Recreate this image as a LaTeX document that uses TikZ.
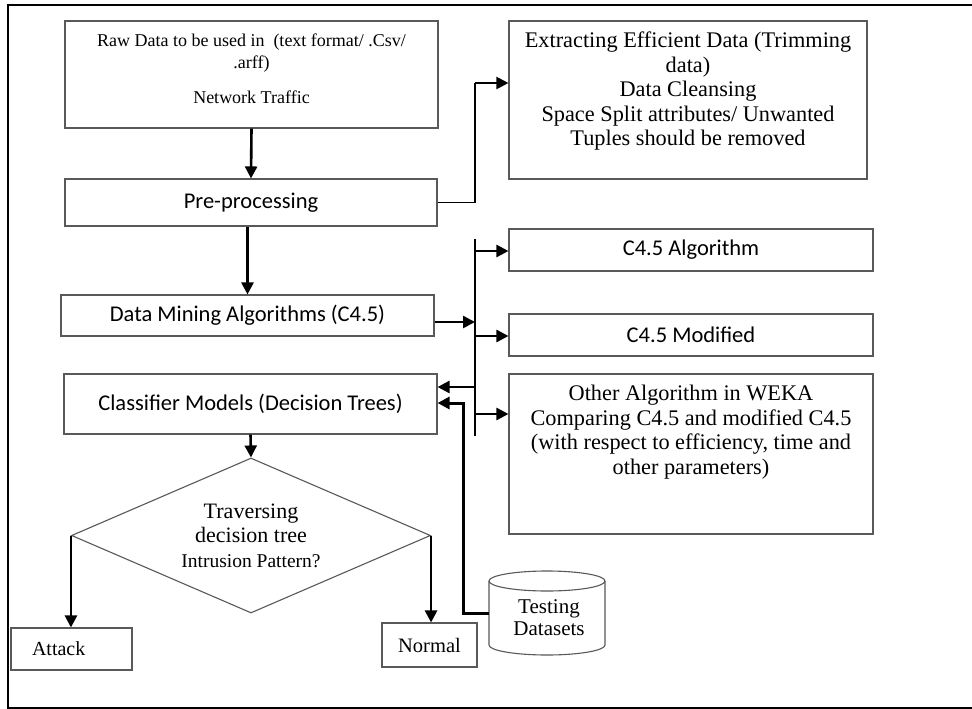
\documentclass[tikz,border=0pt]{standalone}
\usepackage{fontspec}
\setmainfont{Liberation Serif}
\newfontfamily\carl{Carlito}
\usetikzlibrary{arrows.meta,shapes.geometric}
\begin{document}
\begin{tikzpicture}[x=1pt,y=-1pt,
  box/.style={draw=black!65, line width=1.1pt, rectangle, inner sep=0pt},
  serA/.style={font=\fontsize{22.3}{24.5}\selectfont, align=center, inner sep=0pt},
  serB/.style={font=\fontsize{18}{22}\selectfont, align=center, inner sep=0pt},
  serC/.style={font=\fontsize{21}{21.5}\selectfont, align=center, inner sep=0pt},
  cal/.style={font=\carl\fontsize{22.5}{26}\selectfont},
  arr/.style={line width=2.6pt, -{Triangle[length=12pt,width=12pt]}},
  thinline/.style={line width=1.3pt},
  frame/.style={line width=2pt},
  cyl/.style={draw=black!65, line width=1.1pt}
]
\useasboundingbox (0,0) rectangle (972,709);
\fill[white] (0,0) rectangle (972,709);
\draw[frame] (972,5) -- (8,5) -- (8,708) -- (972,708);

% left column
\node[box, minimum width=373, minimum height=107] (raw) at (251.5,74.5) {};
\node[serB] (rawtxt) at (251.5,69) {Raw Data to be used in~ (text format/ .Csv/\\.arff)\\[13pt]Network Traffic};
\node[box, cal, minimum width=372, minimum height=47] (pre) at (251,202.5) {Pre-processing};
\node[box, cal, minimum width=373, minimum height=41] (dma) at (247.5,315.5) {Data Mining Algorithms (C4.5)};
\node[box, cal, minimum width=373, minimum height=60] (cls) at (250.5,404) {\raisebox{-3pt}{Classifier Models (Decision Trees)}};

% right column
\node[box, minimum width=358, minimum height=158] (ext) at (688,100) {};
\node[serA] (exttxt) at (688,91.5) {Extracting Efficient Data (Trimming\\data)\\Data Cleansing\\Space Split attributes/ Unwanted\\Tuples should be removed};
\node[box, cal, minimum width=364, minimum height=42] (c45a) at (691,250) {C4.5 Algorithm};
\node[box, cal, minimum width=364, minimum height=42] (c45m) at (691,335) {C4.5 Modified};
\node[box, minimum width=364, minimum height=160] (oth) at (691,454) {};
\node[serA] (othtxt) at (691,432) {Other Algorithm in WEKA\\Comparing C4.5 and modified C4.5\\(with respect to efficiency, time and\\other parameters)};

% decision
\node[draw=black!65, line width=1.1pt, diamond, aspect=2.3, minimum width=359, minimum height=155, inner sep=0pt,
      font=\fontsize{22}{24.5}\selectfont, align=center] (dia) at (251,535.5)
      {Traversing\\decision tree\\{\fontsize{19.5}{23}\selectfont Intrusion Pattern?}};
\node[box, minimum width=121, minimum height=42, text width=79pt, inner xsep=21pt, align=left,
      font=\fontsize{20}{22}\selectfont] (att) at (71.5,649) {Attack};
\node[box, minimum width=95, minimum height=44, font=\fontsize{20.5}{22}\selectfont] (nor) at (429.5,645) {Normal};

% testing datasets cylinder
\draw[cyl] (489,581) -- (489,645) arc[start angle=180, end angle=0, x radius=58, y radius=10] -- (605,581);
\draw[cyl] (547,581) ellipse [x radius=58, y radius=10];
\node[serC] (tds) at (549,617.5) {Testing\\Datasets};
\coordinate (cylw) at (489,613);

% connectors
\draw[arr] (raw.south) -- (pre.north);
\draw[arr] (dma.north |- pre.south) -- (dma.north);
\coordinate (bend) at (475,83);
\draw[thinline] (pre.east) -| (bend);
\draw[arr, line width=2pt] (bend) -- (ext.west |- bend);

\coordinate (bustop) at (475,239);
\coordinate (busbot) at (475,436);
\coordinate (bin) at (475,322);
\coordinate (b1) at (475,251);
\coordinate (b2) at (475,336);
\coordinate (b3) at (475,387);
\coordinate (b4) at (475,414);
\draw[thinline] (bustop) -- (busbot);
\draw[arr] (dma.east |- bin) -- (bin);
\draw[arr] (b1) -- (c45a.west |- b1);
\draw[arr] (b2) -- (c45m.west |- b2);
\draw[arr] (b3) -- (cls.east |- b3);
\draw[arr] (b4) -- (oth.west |- b4);

\coordinate (tb) at (463,403);
\draw[arr, line width=3pt] (cylw) -| (tb) -- (cls.east |- tb);

\draw[arr] (cls.south) -- (dia.north);
\draw[arr] (dia.west) -- (dia.west |- att.north);
\draw[arr] (dia.east) -- (dia.east |- nor.north);
\end{tikzpicture}
\end{document}
